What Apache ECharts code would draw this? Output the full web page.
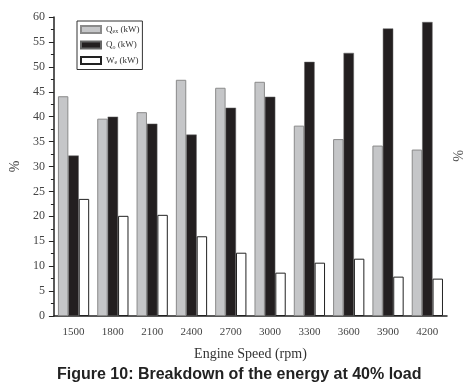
<!DOCTYPE html>
<html>
<head>
<meta charset="utf-8">
<script src="https://cdn.jsdelivr.net/npm/echarts@6/dist/echarts.min.js"></script>
<style>
  html, body { margin: 0; padding: 0; background: #fff; }
  #chart { width: 466px; height: 391px; }
</style>
</head>
<body>
<div id="chart"></div>
<script>
const speeds = ["1500", "1800", "2100", "2400", "2700", "3000", "3300", "3600", "3900", "4200"]
const qex = [44.1, 39.6, 40.9, 47.4, 45.8, 47.0, 38.2, 35.5, 34.2, 33.4]
const qo = [32.2, 40.0, 38.6, 36.4, 41.8, 44.0, 51.0, 52.8, 57.7, 59.0]
const we = [23.5, 20.1, 20.3, 16.0, 12.7, 8.7, 10.7, 11.5, 7.9, 7.5]

const serif = "Liberation Serif"

const chart = echarts.init(document.getElementById("chart"), null, { renderer: "canvas" })

const legendNames = {
  qex: "{m|Q}{s|ex}{m| (kW)}",
  qo: "{m|Q}{s|o}{m| (kW)}",
  we: "{m|W}{s|e}{m| (kW)}"
}

const barLayout = { barWidth: "26.5%", barGap: "0%", barCategoryGap: "20%" }

chart.setOption({
  animation: false,
  grid: { left: 45, right: 19, top: 17, bottom: 75 },
  legend: {
    orient: "vertical",
    left: 77,
    top: 21,
    icon: "rect",
    itemWidth: 20,
    itemHeight: 7,
    itemGap: 6,
    padding: [4, 3, 4, 3],
    borderColor: "#333",
    borderWidth: 1,
    data: ["qex", "qo", "we"],
    formatter: (name) => legendNames[name],
    textStyle: {
      fontFamily: serif,
      color: "#333",
      rich: {
        m: { fontFamily: serif, fontSize: 9, color: "#333" },
        s: { fontFamily: serif, fontSize: 6, color: "#333", verticalAlign: "bottom", padding: [4, 0, 0, 0] }
      }
    }
  },
  xAxis: [
    {
      type: "category",
      data: speeds,
      name: "Engine Speed (rpm)",
      nameLocation: "middle",
      nameGap: 31,
      nameTextStyle: { fontFamily: serif, fontSize: 14, color: "#333" },
      axisLine: { lineStyle: { color: "#222", width: 1.5 } },
      axisTick: { length: 4, lineStyle: { color: "#222" } },
      axisLabel: { fontFamily: serif, fontSize: 11, color: "#444", margin: 11 }
    },
    {
      // mid-category ticks
      type: "category",
      data: speeds,
      position: "bottom",
      axisLine: { show: false },
      axisTick: { alignWithLabel: true, length: 3, lineStyle: { color: "#222" } },
      axisLabel: { show: false }
    }
  ],
  yAxis: {
    type: "value",
    min: 0,
    max: 60,
    interval: 5,
    name: "%",
    nameLocation: "middle",
    nameGap: 30,
    nameTextStyle: { fontFamily: serif, fontSize: 14, color: "#444" },
    axisLine: { show: true, lineStyle: { color: "#222", width: 1.5 } },
    axisTick: { show: true, length: 5, lineStyle: { color: "#222" } },
    minorTick: { show: true, splitNumber: 2, length: 3, lineStyle: { color: "#222" } },
    splitLine: { show: false },
    axisLabel: { fontFamily: serif, fontSize: 12, color: "#444", margin: 9 }
  },
  graphic: [
    {
      type: "text",
      left: 450,
      top: 150,
      rotation: -Math.PI / 2,
      style: { text: "%", fontFamily: serif, fontSize: 14, fill: "#555" }
    },
    {
      type: "text",
      left: 57,
      top: 367,
      style: {
        text: "Figure 10: Breakdown of the energy at 40% load",
        fontFamily: "Liberation Sans",
        fontWeight: "bold",
        fontSize: 16,
        fill: "#222"
      }
    }
  ],
  series: [
    {
      name: "qex",
      type: "bar",
      data: qex,
      ...barLayout,
      itemStyle: { color: "#c5c6c8", borderColor: "#8a8a8a", borderWidth: 1 }
    },
    {
      name: "qo",
      type: "bar",
      data: qo,
      ...barLayout,
      itemStyle: { color: "#231f20", borderColor: "#666", borderWidth: 0.5 }
    },
    {
      name: "we",
      type: "bar",
      data: we,
      ...barLayout,
      itemStyle: { color: "#ffffff", borderColor: "#222", borderWidth: 1 }
    }
  ]
})
</script>
</body>
</html>
